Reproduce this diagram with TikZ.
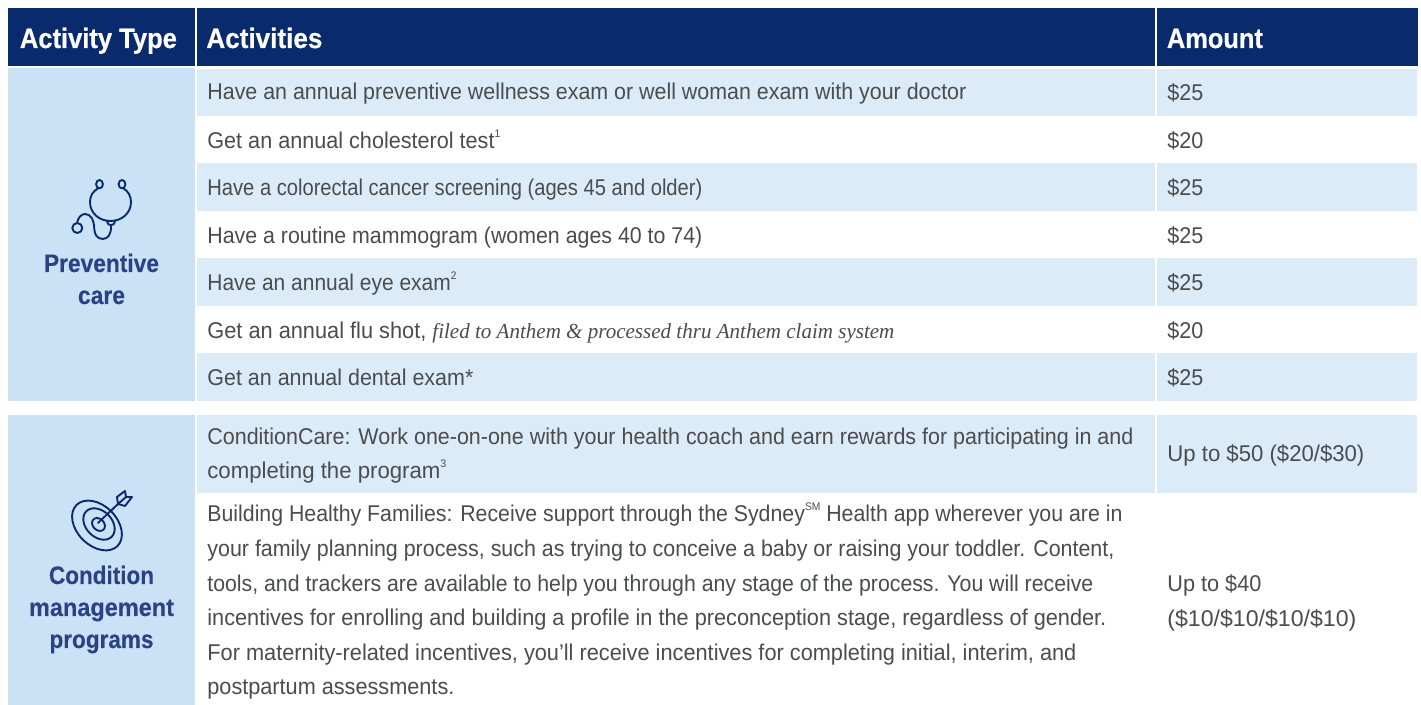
\documentclass[tikz,border=0pt]{standalone}
\usepackage{graphicx}
\usepackage{fontspec}
\setmainfont{Liberation Sans}
\newfontfamily\bodyf{Liberation Sans}
\newfontfamily\headf[BoldFeatures={FakeBold=0.5}]{Liberation Sans}
\newfontfamily\labf[BoldFeatures={FakeBold=0.2}]{Liberation Sans}
\newfontfamily\itf{Liberation Serif}
\definecolor{navy}{HTML}{092A6C}
\definecolor{cellL}{HTML}{CBE2F6}
\definecolor{rowL}{HTML}{DBEBF8}
\definecolor{bodyT}{HTML}{4B4C4E}
\definecolor{labT}{HTML}{2C4286}
\newcommand{\sm}[1]{\raisebox{0.95ex}{\fontsize{5.5pt}{6pt}\selectfont #1}}
\newcommand{\fitw}[2]{\resizebox{\dimexpr #1pt/2\relax}{\height}{#2}}
\tikzset{
 x=0.5pt,y=-0.5pt,
 hd/.style={anchor=base west,inner sep=0pt,text=white,font=\headf\bfseries\fontsize{14pt}{16pt}\selectfont},
 tx/.style={anchor=base west,inner sep=0pt,text=bodyT,font=\bodyf\fontsize{11.4pt}{14pt}\selectfont},
 lab/.style={anchor=base,inner sep=0pt,text=labT,font=\labf\bfseries\fontsize{12.6pt}{14pt}\selectfont},
 ic/.style={draw=navy,line width=0.95pt,line cap=round,line join=round},
}
\begin{document}
\begin{tikzpicture}
\useasboundingbox (0,0) rectangle (1421,705);
\fill[white] (0,0) rectangle (1421,705);
% header
\fill[navy] (8,8) rectangle (195,66);
\fill[navy] (197,8) rectangle (1155,66);
\fill[navy] (1157,8) rectangle (1418,66);
% left cells
\fill[cellL] (8,68) rectangle (195,401);
\fill[cellL] (8,415) rectangle (195,705);
% rows
\foreach \a/\b in {69/116,163/211,258/306,353/401,415/493}{
 \fill[rowL] (197,\a) rectangle (1155,\b);
 \fill[rowL] (1157,\a) rectangle (1417,\b);
}
\node[hd] (h1) at (19.5,48) {\fitw{157}{Activity Type}};
\node[hd] (h2) at (206,48) {\fitw{116}{Activities}};
\node[hd] (h3) at (1166.5,48) {\fitw{96}{Amount}};
\node[tx] (a1) at (207,100) {\fitw{759}{Have an annual preventive wellness exam or well woman exam with your doctor}};
\node[tx] (a2) at (207,149) {\fitw{293}{Get an annual cholesterol test\sm{1}}};
\node[tx] (a3) at (207,196) {\fitw{495}{Have a colorectal cancer screening (ages 45 and older)}};
\node[tx] (a4) at (207,244) {\fitw{495}{Have a routine mammogram (women ages 40 to 74)}};
\node[tx] (a5) at (207,291) {\fitw{249}{Have an annual eye exam\sm{2}}};
\node[tx] (a6) at (207,339) {\fitw{219}{Get an annual flu shot,}\hskip 3pt\fitw{462}{\itf\itshape\fontsize{10.7pt}{12pt}\selectfont filed to Anthem \& processed thru Anthem claim system}};
\node[tx] (a7) at (207,386) {\fitw{266}{Get an annual dental exam*}};
\node[tx] (b1) at (207,445) {\fitw{926}{ConditionCare: Work one-on-one with your health coach and earn rewards for participating in and}};
\node[tx] (b2) at (207,479) {\fitw{239}{completing the program\sm{3}}};
\node[tx] (c1) at (207,522) {\fitw{915}{Building Healthy Families: Receive support through the Sydney\sm{SM} Health app wherever you are in}};
\node[tx] (c2) at (207,557) {\fitw{907}{your family planning process, such as trying to conceive a baby or raising your toddler. Content,}};
\node[tx] (c3) at (207,592) {\fitw{886}{tools, and trackers are available to help you through any stage of the process. You will receive}};
\node[tx] (c4) at (207,626) {\fitw{899}{incentives for enrolling and building a profile in the preconception stage, regardless of gender.}};
\node[tx] (c5) at (207,661) {\fitw{869}{For maternity-related incentives, you’ll receive incentives for completing initial, interim, and}};
\node[tx] (c6) at (207,695) {\fitw{247}{postpartum assessments.}};
\foreach \n/\y/\t in {m1/101/\$25,m2/149/\$20,m3/196/\$25,m4/244/\$25,m5/291/\$25,m6/339/\$20,m7/386/\$25}{
 \node[tx] (\n) at (1167,\y) {\fitw{36}{\t}};
}
\node[tx] (m8) at (1167,462) {\fitw{197}{Up to \$50 (\$20/\$30)}};
\node[tx] (m9) at (1167,592) {\fitw{94}{Up to \$40}};
\node[tx] (m10) at (1167,627) {\fitw{189}{(\$10/\$10/\$10/\$10)}};
\node[lab] (l1) at (101.5,272) {\fitw{115}{Preventive}};
\node[lab] (l2) at (101.5,304) {\fitw{47}{care}};
\node[lab] (l3) at (101.5,584) {\fitw{105}{Condition}};
\node[lab] (l4) at (101.5,616) {\fitw{145}{management}};
\node[lab] (l5) at (101.5,648) {\fitw{104}{programs}};
% stethoscope
\draw[ic] (98,188.5) .. controls (93,191) and (90,196) .. (90,202) .. controls (90,213) and (99,221) .. (110.5,221) .. controls (122,221) and (131,213) .. (131,202) .. controls (131,196) and (128,191) .. (123.5,188.5);
\draw[ic] (99.5,184.2) circle[x radius=3.4,y radius=4.2];
\draw[ic] (122,184.2) circle[x radius=3.4,y radius=4.2];
\draw[ic] (107,220.5) .. controls (107.5,227) and (114.5,227) .. (115,220.5);
\draw[ic] (111,225.5) .. controls (111.5,234) and (108,239) .. (102.7,239) .. controls (97,239) and (94.5,234) .. (94.3,229) .. controls (94,220) and (91,214) .. (85,214) .. controls (81,214) and (78,218) .. (77,223);
\draw[ic] (77.3,228) circle[radius=5];
% target
\draw[ic,rotate around={45:(97,525.5)}] (97,525.5) ellipse[x radius=20,y radius=29];
\draw[ic,rotate around={45:(99,524)}] (99,524) ellipse[x radius=13,y radius=18];
\draw[ic,rotate around={45:(98.5,524.5)}] (98.5,524.5) ellipse[x radius=5.6,y radius=7.2];
\draw[ic] (98,523) -- (118,504);
\draw[ic] (118,504) -- (117,497) -- (125,491) -- (126,497) -- (132,497) -- (125,506) -- cycle;
\draw[ic] (118,504) -- (126,497);
\end{tikzpicture}
\end{document}
